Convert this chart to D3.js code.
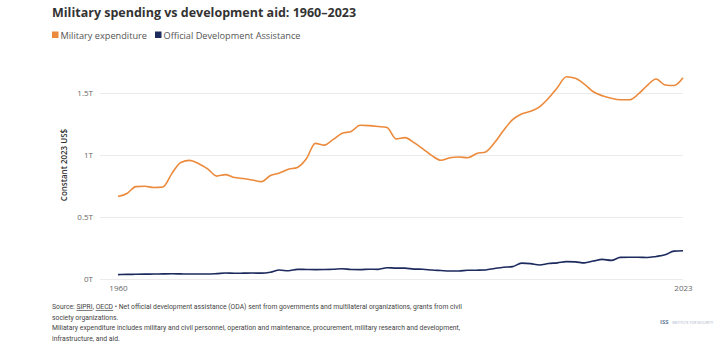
<!DOCTYPE html>
<html><head><meta charset="utf-8">
<script src="https://cdn.jsdelivr.net/npm/d3@7"></script>
<style>
body{margin:0;background:#fff;}
svg{display:block;font-family:"Open Sans",sans-serif;}
</style></head>
<body>
<script>
const years = d3.range(1960, 2024);
const military = [0.665,0.69,0.745,0.748,0.738,0.742,0.85,0.94,0.957,0.93,
0.888,0.83,0.842,0.818,0.81,0.798,0.785,0.835,0.855,0.885,
0.9,0.97,1.094,1.08,1.126,1.175,1.19,1.24,1.237,1.23,
1.222,1.13,1.14,1.1,1.05,0.995,0.958,0.978,0.984,0.978,
1.012,1.025,1.1,1.2,1.285,1.33,1.352,1.388,1.457,1.545,
1.631,1.618,1.572,1.51,1.478,1.458,1.446,1.445,1.49,1.56,
1.613,1.565,1.56,1.623];
const oda = [0.035,0.037,0.038,0.039,0.04,0.041,0.042,0.041,0.04,0.04,
0.04,0.043,0.048,0.046,0.047,0.048,0.047,0.055,0.072,0.066,
0.078,0.077,0.076,0.077,0.079,0.083,0.077,0.076,0.079,0.078,
0.091,0.088,0.088,0.08,0.079,0.072,0.068,0.064,0.065,0.07,
0.071,0.073,0.085,0.095,0.1,0.128,0.124,0.113,0.125,0.13,
0.14,0.138,0.13,0.145,0.158,0.15,0.174,0.175,0.175,0.173,
0.182,0.195,0.225,0.228];
const yTicks = [0, 0.5, 1, 1.5];
const yTickLabels = ["0T","0.5T","1T","1.5T"];
const xTicks = [1960, 2023];
const seriesNames = ["Military expenditure","Official Development Assistance"];
const seriesColors = ["#ec8a3c","#1c2a5e"];

const W = 726, H = 359;
const svg = d3.select("body").append("svg").attr("width", W).attr("height", H);

const x = d3.scaleLinear().domain([1960, 2023]).range([118, 683]);
const y = d3.scaleLinear().domain([0, 1.5]).range([279, 93]);

// title
svg.append("text").attr("x", 52).attr("y", 17)
  .attr("font-size", 12.5).attr("font-weight", 700).attr("fill", "#333")
  .text("Military spending vs development aid: 1960–2023");

// legend
let lx = 52;
seriesNames.forEach((n, i) => {
  const g = svg.append("g");
  g.append("rect").attr("x", lx).attr("y", 31.5).attr("width", 6.5).attr("height", 6.5).attr("fill", seriesColors[i]);
  const t = g.append("text").attr("x", lx + 8.5).attr("y", 38.5).attr("font-size", 9.2).attr("fill", "#555").text(n);
  lx += 8.5 + t.node().getComputedTextLength() + 8;
});

// grid + y axis
const yAxis = d3.axisLeft(y).tickValues(yTicks).tickFormat((d, i) => yTickLabels[i]).tickSize(-583).tickPadding(7);
const ga = svg.append("g").attr("transform", "translate(100,0)").call(yAxis);
ga.select(".domain").remove();
ga.selectAll(".tick line").attr("stroke", "#ebebeb").attr("stroke-width", 1);
ga.selectAll(".tick text").attr("font-size", 8).attr("fill", "#666").attr("font-family", "Open Sans, sans-serif");

// x axis
const xAxis = d3.axisBottom(x).tickValues(xTicks).tickFormat(d3.format("d")).tickSize(0).tickPadding(6);
const gx = svg.append("g").attr("transform", "translate(0,279)").call(xAxis);
gx.select(".domain").remove();
gx.selectAll(".tick text").attr("font-size", 8).attr("fill", "#666").attr("font-family", "Open Sans, sans-serif");

// y label
svg.append("text").attr("transform", "translate(67,165) rotate(-90)")
  .attr("text-anchor", "middle").attr("font-size", 8).attr("font-weight", 600).attr("fill", "#333")
  .text("Constant 2023 US$");

// lines
const line = d3.line().x((d, i) => x(years[i])).y(d => y(d)).curve(d3.curveMonotoneX);
[military, oda].forEach((s, i) => {
  svg.append("path").datum(s).attr("d", line).attr("fill", "none")
    .attr("stroke", seriesColors[i]).attr("stroke-width", 1.6);
});

// footer
const foot = svg.append("g").attr("font-size", 6.8).attr("fill", "#444").attr("font-family", "Roboto, sans-serif");
const l1 = foot.append("text").attr("x", 52).attr("y", 309);
l1.append("tspan").text("Source: ");
l1.append("tspan").attr("text-decoration", "underline").text("SIPRI");
l1.append("tspan").text(", ");
l1.append("tspan").attr("text-decoration", "underline").text("OECD");
l1.append("tspan").text(" • Net official development assistance (ODA) sent from governments and multilateral organizations, grants from civil");
foot.append("text").attr("x", 52).attr("y", 319.5).text("society organizations.");
foot.append("text").attr("x", 52).attr("y", 330).text("Miliatary expenditure includes military and civil personnel, operation and maintenance, procurement, military research and development,");
foot.append("text").attr("x", 52).attr("y", 340.5).text("infrastructure, and aid.");

// logo
svg.append("text").attr("x", 660).attr("y", 324).attr("font-size", 6).attr("font-weight", 700).attr("fill", "#6b7f9e").text("ISS");
svg.append("text").attr("x", 672).attr("y", 324).attr("font-size", 3.5).attr("fill", "#9fb0c8").text("INSTITUTE FOR SECURITY");
</script>
</body></html>
